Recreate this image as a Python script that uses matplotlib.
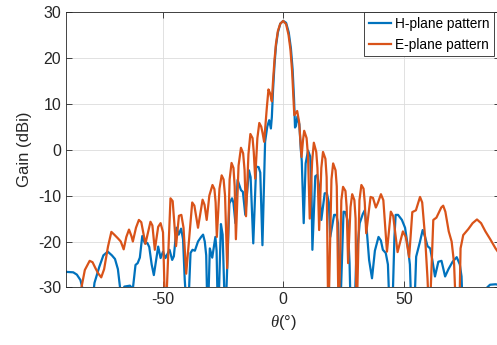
import matplotlib
matplotlib.use("Agg")
import matplotlib.pyplot as plt

# H-plane pattern (theta in degrees, gain in dBi)
theta_h = [-90, -87, -85.5, -84, -83, -80.5,
           -78.2, -76.2, -74.5, -72.7, -71, -69.7, -68.5, -67.5, -66.8,
           -65.8, -63.5, -62.3,
           -61.2, -60.3, -59.4, -58.4, -57.3, -56.3, -55.5, -54.5, -53.6,
           -51.8, -50.8, -49.8, -48.8, -47.1, -46, -45.3,
           -44.2, -43.3, -42.3, -41.5, -40.8, -39.6,
           -38.4, -37.6, -36.6, -35.3, -34, -33.2, -32.5, -31.9, -31.3,
           -30.4, -29.4, -28.1, -27.6, -27.0,
           -25.8, -25.1, -24.0,
           -22.3, -21.2, -20.6, -19.8,
           -18.9, -17.5, -16.7, -15.7,
           -14.2, -13.5, -12.4,
           -11.2, -10.2, -9.5, -8.6,
           -7.5, -6.6, -5.8, -5.1, -4.7,
           -4.2, -3.6, -3, -2.2, -1.2, 0, 1.2, 2.3, 3.2, 3.9, 4.5, 4.9,
           5.3, 5.9, 6.7, 7.3, 7.7, 8.5,
           9.3, 10.3, 11.2, 11.7, 12.1,
           13.3, 14.1, 14.9, 15.8,
           17.2, 18.1, 18.9, 19.5,
           21.1, 22, 22.7, 23.5,
           25, 25.8, 26.7, 27.5, 28.1, 29.4,
           30.2, 31.7, 33, 33.8, 34.7, 35.6, 36.8,
           38, 39.5, 40.5, 41.3, 42.5, 43.4, 44.3, 45.4,
           46.1, 46.6, 47.6, 49.2, 50.5, 51.5, 52.5, 53.3, 54.4,
           55.1, 56.7, 57.8, 58.8, 59.8, 60.9, 61.8, 62.9,
           64.3, 65.6, 67.1, 68.5, 70.2, 71.9, 73.2, 73.9, 74.6,
           79, 83.5, 84.5, 85.7, 88, 90]
gain_h = [-26.6, -26.7, -27.2, -28.4, -30.6, -40,
          -29, -25.5, -23, -22.2, -23, -23.8, -26, -30.5, -31,
          -29.8, -29.6, -30.3,
          -25.1, -24.7, -23.5, -18.8, -20.4, -20.3, -21.2, -25, -27.3,
          -21.1, -23.6, -22.2, -23.6, -21.8, -24, -23.2,
          -17, -18.5, -17.2, -19.5, -28.3, -38,
          -22.5, -21.8, -22, -20, -19, -18.5, -20, -23, -38,
          -21.5, -23.5, -19, -22, -38,
          -16.2, -18.5, -38,
          -11.7, -10.6, -11.6, -16,
          -6.6, -8.8, -9.2, -14.2,
          -4.5, -6, -20.4,
          -3.7, -3.8, -5, -20.8,
          1.7, 5, 6.4, 4.6, 7.1,
          13, 18.5, 22.5, 25.5, 27.4, 28, 27.6, 25.5, 22, 17.5, 11, 4.8,
          5.2, 7.2, 5.5, 0, -2.5, -16,
          -3, -0.2, -1.5, -8, -21.8,
          -5.8, -5.5, -8, -15.3,
          -9.5, -9.5, -11.5, -19,
          -14.2, -14.2, -16, -38,
          -13.5, -13.6, -15.5, -24.7, -38, -38,
          -25, -16, -14, -13.2, -18, -24, -28,
          -22, -19, -19.8, -21.8, -22.5, -25, -38, -32,
          -19, -14.2, -14.2, -15.3, -17, -20.5, -25, -38, -34,
          -23.3, -20, -17.5, -19, -21, -21.5, -24, -27.6,
          -24.4, -24.2, -27.6, -26, -24.4, -23.4, -25, -27.6, -38,
          -42, -33, -30, -29.4, -29.3, -29.5]

# E-plane pattern
theta_e = [-90, -84.5, -83.6, -82.2, -80.2, -79, -77.8, -76.7, -75.4, -74.2,
           -72.6, -71.2, -70, -68.5, -67.3, -66.1, -65, -63.9, -62.9, -62.3,
           -61, -59.8, -58.8, -57.1, -55, -54.2, -53.2, -51.8, -50.8, -49.8, -48.8,
           -46.7, -45.8, -44.4, -43.2, -42.2, -41.3, -40.2,
           -37.7, -36.8, -35.3, -33.4, -32.6, -31.7,
           -30.6, -29.3, -28.5, -28, -27.5, -26.4, -25.5, -24.7, -24.1, -23.2,
           -22.2, -21.4, -20.6, -20.1, -19.6, -18.5, -17.5, -16.6, -16, -15.4,
           -14.4, -13.6, -12.7, -12.2, -11.6, -10.7, -9.9, -9.1, -8.5, -7.9,
           -6.8, -6.1, -5.4, -4.7,
           -4.2, -3.6, -3, -2.2, -1.2, 0, 1.2, 2.2, 3, 3.7, 4.2, 4.6,
           5.8, 6.6, 7.6, 8.2, 8.7, 9.7, 10.3, 11, 12, 12.7, 13.7, 14.2, 14.9,
           15.8, 16.5, 17.5, 18, 18.7,
           20, 20.7, 21.7, 22.2, 23, 24.1, 24.8, 25.8, 26.3, 26.9,
           27.9, 28.6, 29.5, 30, 30.4,
           31.6, 32.4, 33.3, 33.8, 34.4, 36.2, 37.2, 38.4, 39.3, 40.5, 41.5, 43,
           44.6, 45.6, 47.4, 49.6, 50.8, 52.2, 53.5, 55, 56.7, 57.6, 58.8, 59.8, 60.6,
           61.5, 62.2, 63.5, 65.5, 66.3, 67.2, 68.6, 69.8, 70.8, 71.8, 72.9,
           73.5, 74.6, 76.7, 78.5, 80.3, 82, 83.8, 85.8, 88, 90]
gain_e = [-45, -34, -30, -26.2, -24.2, -24.5, -25.8, -26.9, -27.8, -26,
          -21.1, -17.9, -18.5, -19.3, -20, -21.7, -19, -17.4, -18.8, -20,
          -17, -15.3, -15.8, -20.5, -15.7, -16.5, -21.8, -16.8, -16, -18, -38,
          -10.6, -11.2, -21, -14.4, -14.2, -17, -27,
          -11.5, -12.2, -17, -10.9, -12, -15.3,
          -10, -7.7, -8.6, -11.5, -19, -8.5, -5.6, -6.5, -10, -25.8,
          -6.5, -2.9, -4, -8, -19.5, -3.5, 0.4, -0.8, -4.5, -14.5,
          -1, 3.4, 2.5, -0.5, -6.3, 2.5, 5.8, 5, 3.5, 1.7,
          9, 13.1, 12.2, 10.5,
          15, 19.5, 23, 25.8, 27.4, 28, 27.3, 25, 21.8, 17, 11.5, 7.5,
          8.4, 6, -1.6, 2, 4.1, 2.5, -1.5, -15, -2.5, 1.5, -0.5, -4, -17.5,
          -4, -0.5, -2, -6, -38,
          -6.5, -3, -4.5, -8, -38, -11, -8.1, -9, -12.5, -24.7,
          -12.5, -9.7, -11, -15, -38,
          -11, -7.7, -8.5, -11.5, -18.2, -10.3, -10.5, -12.6, -11.5, -9.7, -11, -22.2,
          -13.5, -14.5, -22.3, -17.8, -19, -23.4, -13.6, -13.2, -10.3, -11.5, -19, -28, -38,
          -25, -15.3, -14.8, -12.6, -12.2, -13.5, -17.8, -20, -24.7, -38, -38,
          -21.5, -18.6, -17.3, -16, -15.2, -16, -17.8, -19.5, -21.5, -23]

plt.rcParams['font.family'] = ['Liberation Sans', 'DejaVu Sans']
plt.rcParams['axes.unicode_minus'] = False
plt.rcParams['mathtext.fontset'] = 'custom'
plt.rcParams['mathtext.it'] = 'Liberation Serif:italic'

fig = plt.figure(figsize=(4.97, 3.45), dpi=100)
ax = fig.add_axes([0.1328, 0.1667, 0.874, 0.7993])

ax.plot(theta_h, gain_h, color='#0072BD', lw=1.6, solid_joinstyle='round',
        label='H-plane pattern')
ax.plot(theta_e, gain_e, color='#D95319', lw=1.6, solid_joinstyle='round',
        label='E-plane pattern')

ax.set_xlim(-90, 90)
ax.set_ylim(-30, 30)
ax.set_xticks([-50, 0, 50])
ax.set_yticks([-30, -20, -10, 0, 10, 20, 30])
ax.grid(True, color='#dcdcdc', lw=0.6)
ax.set_axisbelow(True)
ax.tick_params(direction='in', top=True, right=True, length=4,
               width=0.6, color='#262626', labelcolor='#262626', labelsize=11.5)
for s in ax.spines.values():
    s.set_color('#262626')
    s.set_linewidth(0.6)

ax.set_xlabel(r'$\theta$(°)', fontsize=12, color='#262626')
ax.set_ylabel('Gain (dBi)', fontsize=12, color='#262626')

leg = ax.legend(loc='upper right', bbox_to_anchor=(494 / 497, 1 - 12 / 345),
                bbox_transform=fig.transFigure, fancybox=False, framealpha=1,
                borderaxespad=0, fontsize=9.8, handlelength=1.6,
                handletextpad=0.3, borderpad=0.35, labelspacing=0.5)
leg.get_frame().set_edgecolor('#262626')
leg.get_frame().set_linewidth(0.6)

fig.savefig('out.png', dpi=100)
